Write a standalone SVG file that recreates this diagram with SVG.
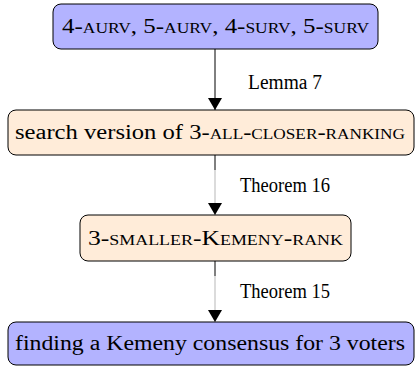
<svg xmlns="http://www.w3.org/2000/svg" width="415" height="367" viewBox="0 0 415 367" font-family="'Liberation Serif', 'DejaVu Serif', serif" font-size="20">
<style>
.box{stroke:#000;stroke-width:1}
.blue{fill:#b3b3ff}
.orange{fill:#ffecd9}
.sc{font-variant:small-caps}
.dark{stroke:#000;stroke-width:1;fill:none}
.grey{stroke:#888;stroke-width:0.6;fill:none}
</style>
<defs>
<marker id="ah" markerWidth="12" markerHeight="14" refX="12" refY="7" orient="auto" markerUnits="userSpaceOnUse">
<path d="M0,0 L12,7 L0,14 z" fill="#000"/>
</marker>
</defs>
<g id="connectors">
<line class="dark" x1="215" y1="49" x2="215" y2="110" marker-end="url(#ah)"/>
<text x="248" y="89" textLength="74" lengthAdjust="spacingAndGlyphs">Lemma 7</text>
<line class="dark" x1="215" y1="155" x2="215" y2="170"/>
<line class="grey" x1="215" y1="170" x2="215" y2="215" marker-end="url(#ah)"/>
<text x="240" y="192" textLength="90" lengthAdjust="spacingAndGlyphs">Theorem 16</text>
<line class="dark" x1="215" y1="261" x2="215" y2="276"/>
<line class="grey" x1="215" y1="276" x2="215" y2="322" marker-end="url(#ah)"/>
<text x="240" y="298" textLength="90" lengthAdjust="spacingAndGlyphs">Theorem 15</text>
</g>
<g id="n1">
<rect class="box blue" x="53" y="4" width="325" height="45" rx="8"/>
<text class="sc" x="62" y="33" textLength="307" lengthAdjust="spacingAndGlyphs">4-aurv, 5-aurv, 4-surv, 5-surv</text>
</g>
<g id="n2">
<rect class="box orange" x="8" y="110" width="406" height="45" rx="8"/>
<text x="15" y="139" textLength="390" lengthAdjust="spacingAndGlyphs">search version of 3-<tspan class="sc">all-closer-ranking</tspan></text>
</g>
<g id="n3">
<rect class="box orange" x="80" y="215" width="271" height="46" rx="8"/>
<text class="sc" x="88" y="245" textLength="255" lengthAdjust="spacingAndGlyphs">3-smaller-Kemeny-rank</text>
</g>
<g id="n4">
<rect class="box blue" x="8" y="322" width="406" height="43" rx="8"/>
<text x="15" y="350" textLength="390" lengthAdjust="spacingAndGlyphs">finding a Kemeny consensus for 3 voters</text>
</g>
</svg>
